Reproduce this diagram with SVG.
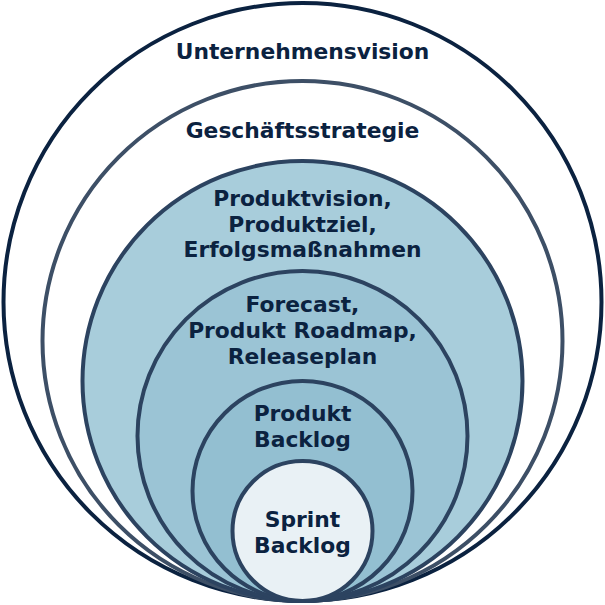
<svg xmlns="http://www.w3.org/2000/svg" width="605" height="605" viewBox="0 0 605 605">
<style>
text{font-family:"DejaVu Sans",Verdana,sans-serif;font-weight:bold;font-size:21.8px;fill:#0b2240;text-anchor:middle}
.c{stroke-width:4}
</style>
<rect width="605" height="605" fill="#ffffff"/>
<g id="unternehmensvision">
<circle class="c" cx="302.5" cy="302" r="299" fill="#ffffff" stroke="#0b2240"/>
<text x="302.5" y="59">Unternehmensvision</text>
</g>
<g id="geschaeftsstrategie">
<circle class="c" cx="302.5" cy="341" r="260" fill="#ffffff" stroke="#3d4f66"/>
<text x="302.5" y="138">Geschäftsstrategie</text>
</g>
<g id="produktvision">
<circle class="c" cx="302.5" cy="381" r="220" fill="#a8cddb" stroke="#2c4360"/>
<text x="302.5" y="206">Produktvision,</text>
<text x="302.5" y="232">Produktziel,</text>
<text x="302.5" y="257">Erfolgsmaßnahmen</text>
</g>
<g id="forecast">
<circle class="c" cx="302.5" cy="436" r="165" fill="#9bc4d5" stroke="#2c4360"/>
<text x="302.5" y="312">Forecast,</text>
<text x="302.5" y="338">Produkt Roadmap,</text>
<text x="302.5" y="364">Releaseplan</text>
</g>
<g id="produktbacklog">
<circle class="c" cx="302.5" cy="491" r="110" fill="#93bfd1" stroke="#2c4360"/>
<text x="302.5" y="421">Produkt</text>
<text x="302.5" y="447">Backlog</text>
</g>
<g id="sprintbacklog">
<circle class="c" cx="302.5" cy="531" r="70" fill="#e9f1f5" stroke="#2c4360"/>
<text x="302.5" y="527">Sprint</text>
<text x="302.5" y="553">Backlog</text>
</g>
<g id="connectors"></g>
</svg>
